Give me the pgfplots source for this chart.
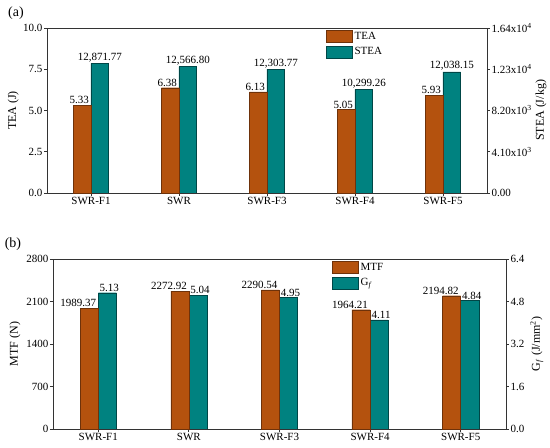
\documentclass[border=0pt]{standalone}
\usepackage{fontspec}
\setmainfont{Liberation Serif}
\usepackage{pgfplots}
\usepackage{pgfplotstable}
\pgfplotsset{compat=1.18}
\definecolor{orng}{RGB}{180,82,14}
\definecolor{orngd}{RGB}{110,50,10}
\definecolor{tl}{RGB}{0,130,128}
\definecolor{tld}{RGB}{0,70,70}
\pgfplotstableread{
x tea stea steal
0 5.33 12871.77 12,871.77
1 6.38 12566.80 12,566.80
2 6.13 12303.77 12,303.77
3 5.05 10299.26 10,299.26
4 5.93 12038.15 12,038.15
}\toptab
\pgfplotstableread{
x mtf gf
0 1989.37 5.13
1 2272.92 5.04
2 2290.54 4.95
3 1964.21 4.11
4 2194.82 4.84
}\bottab
\pgfplotsset{
  mylegend/.style={legend image code/.code={\draw[##1] (0pt,-6pt) rectangle (26pt,6pt);}},
  base/.style={scale only axis, clip=false,
    font=\fontsize{11}{13}\selectfont,
    tick align=outside, major tick length=3pt,
    axis line style={line width=0.8pt, black!80},
    every tick/.style={line width=0.8pt, black!80},
    xmin=-0.5, xmax=4.5, scaled y ticks=false,
    tick label style={inner sep=1.5pt},
    label style={font=\fontsize{12}{14}\selectfont},
  },
  lbls/.style={draw=none, mark=none, forget plot, nodes near coords, point meta=explicit symbolic,
    nodes near coords style={font=\fontsize{11}{13}\selectfont, anchor=south, inner sep=1pt}},
  toppos/.style={at={(47pt,255pt)}, anchor=south west, width=440pt, height=165pt},
  botpos/.style={at={(53pt,19pt)}, anchor=south west, width=453pt, height=170pt},
}
\begin{document}
\begin{tikzpicture}
\useasboundingbox (0,0) rectangle (550pt,448pt);
\node[font=\fontsize{14}{16}\selectfont] at (16pt,435pt) {(a)};
\node[font=\fontsize{14}{16}\selectfont] at (13pt,204pt) {(b)};
% ---- top panel ----
\begin{axis}[base, toppos,
  axis x line=none, axis y line*=right,
  ymin=0, ymax=16400, ytick={0,4100,8200,12300,16400},
  yticklabels={0.00,4.10x10\textsuperscript{3},8.20x10\textsuperscript{3},1.23x10\textsuperscript{4},1.64x10\textsuperscript{4}},
  ylabel={STEA (J/kg)},
  ylabel style={at={(axis description cs:1.123,0.5)}, anchor=center, rotate=0}]
\addplot[ybar, bar width=0.2, bar shift=0.1, fill=tl, draw=tld, line width=0.4pt]
  table[x=x, y=stea] {\toptab};
\end{axis}
\begin{axis}[base, toppos,
  ymin=0, ymax=10, ytick={0,2.5,5,7.5,10}, yticklabels={0.0,2.5,5.0,7.5,10.0},
  ytick pos=left, xtick pos=bottom,
  xtick={0,1,2,3,4}, xticklabels={SWR-F1,SWR,SWR-F3,SWR-F4,SWR-F5},
  ylabel={TEA (J)},
  ylabel style={at={(axis description cs:-0.077,0.5)}, anchor=center, rotate=0},
  legend style={draw=none, fill=none, at={(0.634,0.99)}, anchor=north west, inner sep=0pt,
    font=\fontsize{11}{13}\selectfont, row sep=3pt, cells={anchor=west}}]
\addplot[ybar, bar width=0.2, bar shift=-0.1, fill=orng, draw=orngd, line width=0.4pt, mylegend]
  table[x=x, y=tea] {\toptab};
\addlegendentry{TEA}
\addlegendimage{fill=tl, draw=tld, line width=0.4pt, mylegend}
\addlegendentry{STEA}
\addplot[lbls] table[x expr=\thisrow{x}-0.134, y=tea, meta=tea] {\toptab};
\end{axis}
\begin{axis}[base, toppos, hide axis, ymin=0, ymax=16400]
\addplot[lbls] table[x expr=\thisrow{x}+0.1, y=stea, meta=steal] {\toptab};
\end{axis}
% ---- bottom panel ----
\begin{axis}[base, botpos,
  axis x line=none, axis y line*=right,
  ymin=0, ymax=6.4, ytick={0,1.6,3.2,4.8,6.4}, yticklabels={0.0,1.6,3.2,4.8,6.4},
  ylabel={G\textsubscript{\textit{f}} (J/mm\textsuperscript{2})},
  ylabel style={at={(axis description cs:1.068,0.5)}, anchor=center, rotate=0}]
\addplot[ybar, bar width=0.2, bar shift=0.1, fill=tl, draw=tld, line width=0.4pt]
  table[x=x, y=gf] {\bottab};
\end{axis}
\begin{axis}[base, botpos,
  ymin=0, ymax=2800, ytick={0,700,1400,2100,2800}, yticklabels={0,700,1400,2100,2800},
  ytick pos=left, xtick pos=bottom,
  xtick={0,1,2,3,4}, xticklabels={SWR-F1,SWR,SWR-F3,SWR-F4,SWR-F5},
  ylabel={MTF (N)},
  ylabel style={at={(axis description cs:-0.084,0.5)}, anchor=center, rotate=0},
  legend style={draw=none, fill=none, at={(0.616,0.99)}, anchor=north west, inner sep=0pt,
    font=\fontsize{11}{13}\selectfont, row sep=3pt, cells={anchor=west}}]
\addplot[ybar, bar width=0.2, bar shift=-0.1, fill=orng, draw=orngd, line width=0.4pt, mylegend]
  table[x=x, y=mtf] {\bottab};
\addlegendentry{MTF}
\addlegendimage{fill=tl, draw=tld, line width=0.4pt, mylegend}
\addlegendentry{G\textsubscript{\textit{f}}}
\addplot[lbls] table[x expr=\thisrow{x}-0.221, y=mtf, meta=mtf] {\bottab};
\end{axis}
\begin{axis}[base, botpos, hide axis, ymin=0, ymax=6.4]
\addplot[lbls] table[x expr=\thisrow{x}+0.122, y=gf, meta=gf] {\bottab};
\end{axis}
\end{tikzpicture}
\end{document}
